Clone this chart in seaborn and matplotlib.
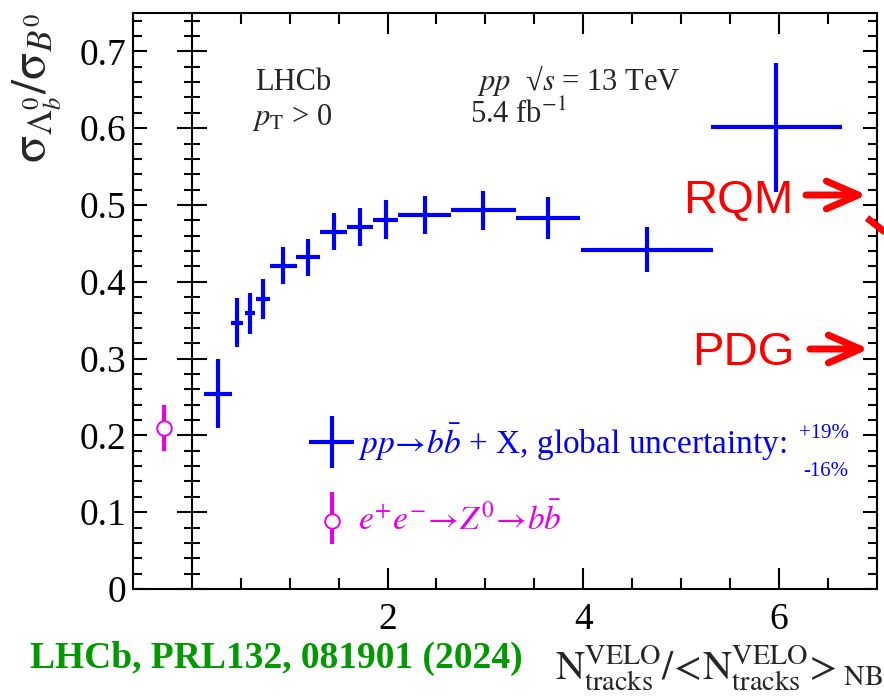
import matplotlib
matplotlib.use("Agg")
import matplotlib.pyplot as plt
import pandas as pd
import seaborn as sns
from matplotlib.ticker import MultipleLocator, FixedLocator, FuncFormatter
from matplotlib.legend_handler import HandlerErrorbar, HandlerTuple
from matplotlib.lines import Line2D

# Lambda_b0 / B0 cross-section ratio versus normalised VELO track multiplicity (pp, 13 TeV)
mult_center = [0.27, 0.46, 0.595, 0.725, 0.935, 1.19, 1.45, 1.72, 1.98, 2.38, 2.98, 3.64, 4.65, 5.97]
mult_halfwidth = [0.14, 0.06, 0.055, 0.07, 0.14, 0.12, 0.135, 0.135, 0.13, 0.27, 0.33, 0.33, 0.67, 0.67]
ratio_pp = [0.254, 0.347, 0.359, 0.378, 0.421, 0.432, 0.465, 0.471, 0.481, 0.487, 0.493, 0.483, 0.442, 0.601]
ratio_pp_err = [0.045, 0.032, 0.027, 0.026, 0.024, 0.024, 0.024, 0.025, 0.025, 0.025, 0.025, 0.027, 0.029, 0.084]

# e+e- -> Z0 -> b bbar reference value, shown left of the separator at x = 0
ee_x = [-0.28]
ee_ratio = [0.21]
ee_err = [0.03]

x_major_ticks = [2, 4, 6]
x_minor_ticks = [0.5, 1.0, 1.5, 2.5, 3.0, 3.5, 4.5, 5.0, 5.5, 6.5]

BLUE = "#0000ff"
MAGENTA = "#e600e6"
RED = "#ff0000"
GREEN = "#009a00"

sns.set_theme(style="ticks")
plt.rcParams.update({
    "font.family": ["Liberation Serif", "DejaVu Serif"],
    "font.serif": ["Liberation Serif", "DejaVu Serif"],
    "mathtext.fontset": "stix",
    "axes.linewidth": 1.5,
    "xtick.color": "black",
    "ytick.color": "black",
})

fig = plt.figure(figsize=(8.84, 7.0), dpi=100)
ax = fig.add_axes([133 / 884, 111 / 700, 744 / 884, 576 / 700])

pp_bars = ax.errorbar(mult_center, ratio_pp, xerr=mult_halfwidth, yerr=ratio_pp_err,
                      fmt="none", ecolor=BLUE, elinewidth=3, capsize=0, zorder=3)
ee_bars = ax.errorbar(ee_x, ee_ratio, yerr=ee_err, fmt="none", ecolor=MAGENTA,
                      elinewidth=3, capsize=0, zorder=3)
ee_df = pd.DataFrame({"mult": ee_x, "ratio": ee_ratio})
sns.scatterplot(data=ee_df, x="mult", y="ratio", ax=ax, marker="o", s=110,
                color="white", edgecolor=MAGENTA, linewidth=1.4, zorder=4, legend=False)
ee_marker = ax.collections[-1]

ax.set_xlim(-0.6, 7.0)
ax.set_ylim(0, 0.75)
ax.xaxis.set_major_locator(FixedLocator(x_major_ticks))
ax.xaxis.set_minor_locator(FixedLocator(x_minor_ticks))
ax.yaxis.set_major_locator(MultipleLocator(0.1))
ax.yaxis.set_minor_locator(MultipleLocator(0.02))
ax.yaxis.set_major_formatter(FuncFormatter(lambda v, _: "0" if abs(v) < 1e-9 else f"{v:.1f}"))

ax.tick_params(axis="both", which="both", direction="in", top=True, right=True, width=1.5)
ax.tick_params(axis="x", which="major", length=15, pad=10, labelsize=27, labelfontfamily="Liberation Serif")
ax.tick_params(axis="x", which="minor", length=8)
ax.tick_params(axis="y", which="major", length=10, pad=5, labelsize=27, labelfontfamily="Liberation Serif")
ax.tick_params(axis="y", which="minor", length=6.5)
for sp in ax.spines.values():
    sp.set_visible(True)
    sp.set_linewidth(1.5)
    sp.set_color("black")

# separator at x = 0 between the e+e- reference and the pp data
sep = ax.secondary_yaxis(0.6 / 7.6)
sep.yaxis.set_major_locator(MultipleLocator(0.1))
sep.yaxis.set_minor_locator(MultipleLocator(0.02))
sep.tick_params(which="both", direction="inout", labelleft=False, labelright=False, width=1.5)
sep.tick_params(which="major", length=22)
sep.tick_params(which="minor", length=12)
for sp in sep.spines.values():
    sp.set_linewidth(1.5)
    sp.set_color("black")

ax.set_ylabel(r"$\mathrm{\sigma}_{\Lambda_b^0}/\mathrm{\sigma}_{B^0}$", fontsize=36)
ax.yaxis.label.set_rotation_mode("default")
ax.yaxis.label.set_ha("center")
ax.yaxis.label.set_va("top")
ax.yaxis.set_label_coords(-0.128, 1.0)

ax.set_xlabel(r"$\mathrm{N}^{\mathrm{VELO}}_{\mathrm{tracks}}/\!<\!\mathrm{N}^{\mathrm{VELO}}_{\mathrm{tracks}}\!>_{\mathrm{NB}}$",
              fontsize=29)
ax.xaxis.label.set_ha("right")
ax.xaxis.label.set_va("baseline")
ax.xaxis.set_label_coords(1.008, -0.158)

# experiment / run labels
ax.text(0.164, 0.866, "LHCb", transform=ax.transAxes, fontsize=22, va="baseline")
ax.text(0.160, 0.806, r"$p_{\mathrm{T}}$ > 0", transform=ax.transAxes, fontsize=22, va="baseline")
ax.text(0.462, 0.866, r"$pp$  √$s$ = 13 TeV", transform=ax.transAxes, fontsize=22, va="baseline")
ax.text(0.453, 0.809, r"5.4 fb$^{\mathrm{-1}}$", transform=ax.transAxes, fontsize=22, va="baseline")

leg = ax.legend(
    [pp_bars, (ee_bars, ee_marker)],
    [r"$pp\!\rightarrow\! b\bar{b}$ + X, global uncertainty:",
     r"$e^{+}e^{-}\!\rightarrow\! Z^{0}\!\rightarrow\! b\bar{b}$"],
    handler_map={type(pp_bars): HandlerErrorbar(xerr_size=0.68, yerr_size=0.78),
                 tuple: HandlerTuple(ndivide=1)},
    loc="upper left", bbox_to_anchor=(0.237, 0.29), frameon=False, fontsize=24,
    borderpad=0, borderaxespad=0, handlelength=1.35, handletextpad=0.12, labelspacing=1.2,
)
for txt, col in zip(leg.get_texts(), [BLUE, MAGENTA]):
    txt.set_color(col)
ax.text(0.962, 0.262, "+19%", transform=ax.transAxes, fontsize=15, color=BLUE, ha="right", va="baseline")
ax.text(0.962, 0.196, "-16%", transform=ax.transAxes, fontsize=15, color=BLUE, ha="right", va="baseline")

# model / world-average markers on the right edge
arrow_style = dict(arrowstyle="->,head_length=2.3,head_width=1.0", lw=5, color=RED,
                   mutation_scale=10, shrinkA=0, shrinkB=0)
fig.text(683 / 884, 1 - 213 / 700, "RQM", fontsize=34, color=RED, family="Liberation Sans", va="baseline")
ax.annotate("", xy=(867 / 884, 1 - 195 / 700), xytext=(806 / 884, 1 - 195 / 700),
            xycoords="figure fraction", textcoords="figure fraction", arrowprops=arrow_style)
fig.text(692 / 884, 1 - 365 / 700, "PDG", fontsize=34, color=RED, family="Liberation Sans", va="baseline")
ax.annotate("", xy=(869 / 884, 1 - 349 / 700), xytext=(810 / 884, 1 - 349 / 700),
            xycoords="figure fraction", textcoords="figure fraction", arrowprops=arrow_style)
fig.add_artist(Line2D([867 / 884, 886 / 884], [1 - 218 / 700, 1 - 233 / 700],
                      transform=fig.transFigure, color=RED, lw=5, solid_capstyle="butt"))

fig.text(30 / 884, 1 - 668 / 700, "LHCb, PRL132, 081901 (2024)", fontsize=27,
         fontweight="bold", color=GREEN, va="baseline")

fig.savefig("out.png", dpi=100)
